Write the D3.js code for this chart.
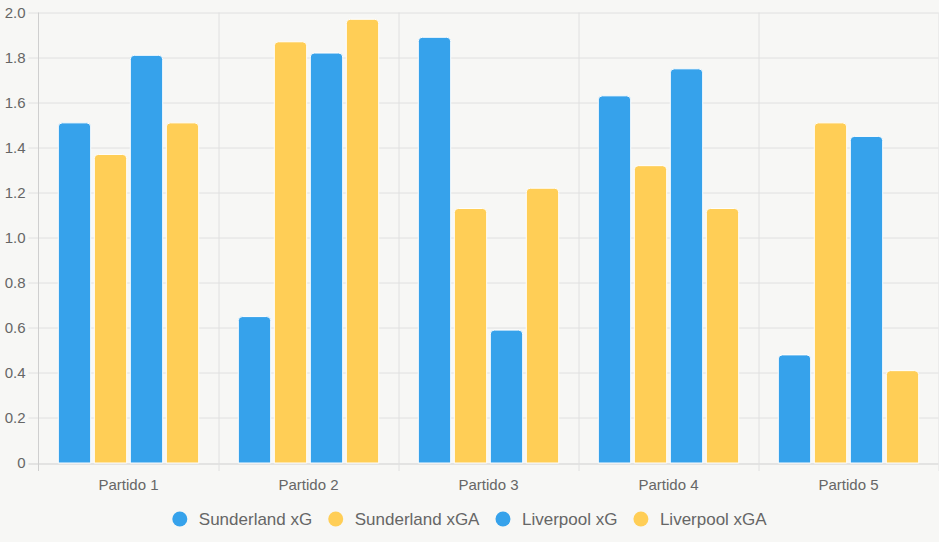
<!DOCTYPE html>
<html>
<head>
<meta charset="utf-8">
<script src="https://cdn.jsdelivr.net/npm/d3@7"></script>
<style>
  body { margin: 0; background: #f7f7f5; }
  svg { display: block; font-family: "Liberation Sans", Arial, sans-serif; }
</style>
</head>
<body>
<div id="chart"></div>
<script>
const partidos = ["Partido 1", "Partido 2", "Partido 3", "Partido 4", "Partido 5"];
const seriesNames = ["Sunderland xG", "Sunderland xGA", "Liverpool xG", "Liverpool xGA"];
const sunderlandXG = [1.51, 0.65, 1.89, 1.63, 0.48];
const sunderlandXGA = [1.37, 1.87, 1.13, 1.32, 1.51];
const liverpoolXG = [1.81, 1.82, 0.59, 1.75, 1.45];
const liverpoolXGA = [1.51, 1.97, 1.22, 1.13, 0.41];
const yTicks = [0, 0.2, 0.4, 0.6, 0.8, 1.0, 1.2, 1.4, 1.6, 1.8, 2.0];

const colors = ["#36a2eb", "#ffce56", "#36a2eb", "#ffce56"];
const allSeries = [sunderlandXG, sunderlandXGA, liverpoolXG, liverpoolXGA];

const W = 939, H = 542;
const margin = { top: 12.5, right: 0.5, bottom: 79, left: 38.5 };
const width = W - margin.left - margin.right;
const height = H - margin.top - margin.bottom;

const svg = d3.select("#chart").append("svg")
  .attr("width", W)
  .attr("height", H);

const g = svg.append("g")
  .attr("transform", `translate(${margin.left},${margin.top})`);

const x0 = d3.scaleBand()
  .domain(partidos)
  .range([0, width]);

// chart.js style: categoryPercentage 0.8, barPercentage 0.9
const x1 = d3.scaleBand()
  .domain(d3.range(seriesNames.length))
  .range([x0.bandwidth() * 0.1, x0.bandwidth() * 0.9]);

const y = d3.scaleLinear()
  .domain([0, 2])
  .range([height, 0]);

// horizontal grid
g.append("g")
  .selectAll("line")
  .data(yTicks)
  .join("line")
  .attr("x1", -10)
  .attr("x2", width)
  .attr("y1", d => Math.round(y(d)) + 0.5)
  .attr("y2", d => Math.round(y(d)) + 0.5)
  .attr("stroke", d => d === 0 ? "#cfcfcf" : "#e0e0e0")
  .attr("stroke-width", 1);

// vertical grid
g.append("g")
  .selectAll("line")
  .data(partidos.map((p, i) => i).concat([partidos.length]))
  .join("line")
  .attr("x1", i => Math.round(i * x0.step()) + (i === 0 ? 0 : 0.5))
  .attr("x2", i => Math.round(i * x0.step()) + (i === 0 ? 0 : 0.5))
  .attr("y1", 0)
  .attr("y2", height + 8)
  .attr("stroke", i => i === 0 ? "#cfcfcf" : "#e0e0e0")
  .attr("stroke-width", 1);

// bars
const r = 4;
const bw = x1.bandwidth() * 0.9;
const barPath = (x, yTop, w, h) => {
  const rr = Math.min(r, h / 2, w / 2);
  return `M${x},${yTop + h}V${yTop + rr}Q${x},${yTop} ${x + rr},${yTop}` +
    `H${x + w - rr}Q${x + w},${yTop} ${x + w},${yTop + rr}V${yTop + h}Z`;
};

const groups = g.append("g")
  .selectAll("g")
  .data(partidos)
  .join("g")
  .attr("transform", d => `translate(${x0(d)},0)`);

groups.selectAll("path")
  .data((p, i) => allSeries.map((s, k) => ({ k, v: s[i] })))
  .join("path")
  .attr("d", d => {
    const bx = x1(d.k) + (x1.bandwidth() - bw) / 2;
    return barPath(bx, y(d.v), bw, height - y(d.v));
  })
  .attr("fill", d => colors[d.k])
  .attr("stroke", "#ffffff")
  .attr("stroke-width", 1);

// y axis labels
g.append("g")
  .selectAll("text")
  .data(yTicks)
  .join("text")
  .attr("x", -13)
  .attr("y", d => y(d))
  .attr("dy", "0.35em")
  .attr("text-anchor", "end")
  .attr("fill", "#666")
  .style("font-size", "15px")
  .text(d => d === 0 ? "0" : d.toFixed(1));

// x axis labels
g.append("g")
  .selectAll("text")
  .data(partidos)
  .join("text")
  .attr("x", d => x0(d) + x0.bandwidth() / 2)
  .attr("y", height + 22)
  .attr("dy", "0.35em")
  .attr("text-anchor", "middle")
  .attr("fill", "#666")
  .style("font-size", "15px")
  .text(d => d);

// legend
const legend = svg.append("g");
const items = legend.selectAll("g")
  .data(seriesNames)
  .join("g");
items.append("text")
  .attr("y", 519)
  .attr("dy", "0.35em")
  .attr("fill", "#666")
  .style("font-size", "17px")
  .text(d => d);
items.append("circle")
  .attr("cy", 519)
  .attr("r", 7.5)
  .attr("fill", (d, i) => colors[i]);

const widths = [];
items.select("text").each(function() { widths.push(this.getComputedTextLength()); });
const gap = 16;
const itemW = widths.map(w => 26.5 + w + gap);
const total = d3.sum(itemW) - gap;
let cx = (W - total) / 2;
items.each(function(d, i) {
  const it = d3.select(this);
  it.select("circle").attr("cx", cx + 7.5);
  it.select("text").attr("x", cx + 26.5);
  cx += itemW[i];
});
</script>
</body>
</html>
